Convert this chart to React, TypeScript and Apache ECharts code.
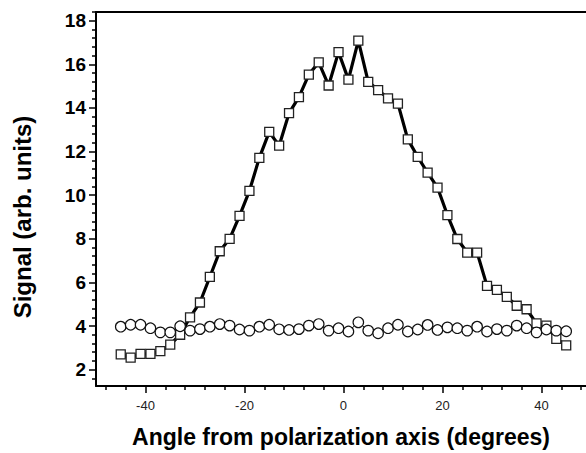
import React, { useEffect, useRef } from "react";
import * as echarts from "echarts";

const angles = [
  -45, -43, -41, -39, -37, -35, -33, -31, -29, -27, -25, -23, -21, -19, -17, -15,
  -13, -11, -9, -7, -5, -3, -1, 1, 3, 5, 7, 9, 11, 13, 15, 17, 19, 21, 23, 25, 27,
  29, 31, 33, 35, 37, 39, 41, 43, 45,
];

const squareSignal = [
  2.7, 2.55, 2.72, 2.72, 2.85, 3.15, 3.6, 4.4, 5.08, 6.25, 7.43, 8.0, 9.05, 10.2,
  11.71, 12.9, 12.27, 13.76, 14.5, 15.53, 16.09, 15.03, 16.56, 15.3, 17.09, 15.2,
  14.82, 14.44, 14.2, 12.56, 11.76, 11.03, 10.35, 9.09, 7.99, 7.37, 7.37, 5.84,
  5.66, 5.34, 4.93, 4.77, 4.12, 4.02, 3.41, 3.11,
];

const circleSignal = [
  3.97, 4.06, 4.06, 3.9, 3.71, 3.71, 3.99, 3.79, 3.86, 3.97, 4.09, 4.02, 3.84,
  3.79, 3.97, 4.06, 3.85, 3.82, 3.86, 4.02, 4.09, 3.79, 3.9, 3.75, 4.17, 3.79,
  3.67, 3.9, 4.06, 3.75, 3.84, 4.05, 3.82, 3.94, 3.9, 3.79, 3.97, 3.75, 3.86,
  3.79, 4.02, 3.9, 3.71, 3.84, 3.79, 3.76,
];

const xMajorTicks = [-40, -20, 0, 20, 40];
const xMinorTicks = [-48, -44, -36, -32, -28, -24, -16, -12, -8, -4, 4, 8, 12, 16, 24, 28, 32, 36, 44, 48];
const yMajorTicks = [2, 4, 6, 8, 10, 12, 14, 16, 18];
const yMinorTicks: number[] = [];
for (let i = 4; i <= 46; i++) {
  const v = Math.round(i * 0.4 * 10) / 10;
  if (Math.abs(v - Math.round(v)) > 1e-6 || Math.round(v) % 2 !== 0) yMinorTicks.push(v);
}

const X_MIN = -50;
const X_MAX = 49;
const Y_MIN = 1.25;
const Y_MAX = 18.4;

export default function App() {
  const ref = useRef<HTMLDivElement>(null);
  useEffect(() => {
    if (!ref.current) return;
    const chart = echarts.init(ref.current, null, { renderer: "svg" });
    const font = "'Liberation Sans', Arial, Helvetica, sans-serif";
    const sq = angles.map((a, i) => [a, squareSignal[i]]);
    const ci = angles.map((a, i) => [a, circleSignal[i]]);
    chart.setOption({
      animation: false,
      backgroundColor: "#ffffff",
      grid: { left: 96, top: 12, right: 0, bottom: 64, containLabel: false },
      xAxis: [
        {
          type: "value",
          min: X_MIN,
          max: X_MAX,
          position: "bottom",
          name: "Angle from polarization axis (degrees)",
          nameLocation: "middle",
          nameGap: 39,
          nameTextStyle: { fontFamily: font, fontWeight: "bold", fontSize: 23, color: "#000" },
          axisLine: { show: true, onZero: false, lineStyle: { color: "#000", width: 2 } },
          axisTick: { show: true, inside: false, length: 7, customValues: xMajorTicks, lineStyle: { color: "#000", width: 1.5 } },
          axisLabel: { show: true, customValues: xMajorTicks, margin: 13, fontFamily: font, fontSize: 13, color: "#222" },
          splitLine: { show: false },
        },
        {
          type: "value",
          min: X_MIN,
          max: X_MAX,
          position: "bottom",
          axisLine: { show: false, onZero: false },
          axisTick: { show: true, inside: false, length: 4, customValues: xMinorTicks, lineStyle: { color: "#000", width: 1.5 } },
          axisLabel: { show: false },
          splitLine: { show: false },
        },
        {
          type: "value",
          min: X_MIN,
          max: X_MAX,
          position: "top",
          axisLine: { show: true, onZero: false, lineStyle: { color: "#000", width: 2 } },
          axisTick: { show: false },
          axisLabel: { show: false },
          splitLine: { show: false },
        },
      ],
      yAxis: [
        {
          type: "value",
          min: Y_MIN,
          max: Y_MAX,
          position: "left",
          axisLine: { show: true, onZero: false, lineStyle: { color: "#000", width: 2 } },
          axisTick: { show: true, inside: false, length: 7, customValues: yMajorTicks, lineStyle: { color: "#000", width: 1.5 } },
          axisLabel: { show: true, customValues: yMajorTicks, margin: 10, fontFamily: font, fontWeight: "bold", fontSize: 19, color: "#000" },
          splitLine: { show: false },
        },
        {
          type: "value",
          min: Y_MIN,
          max: Y_MAX,
          position: "left",
          axisLine: { show: false, onZero: false },
          axisTick: { show: true, inside: false, length: 4, customValues: yMinorTicks, lineStyle: { color: "#000", width: 1.5 } },
          axisLabel: { show: false },
          splitLine: { show: false },
        },
      ],
      graphic: [
        {
          type: "text",
          x: 22,
          y: 217,
          rotation: Math.PI / 2,
          style: {
            text: "Signal (arb. units)",
            fontFamily: font,
            fontWeight: "bold",
            fontSize: 24,
            fill: "#000",
            align: "center",
            verticalAlign: "middle",
          },
        },
      ],
      series: [
        {
          type: "line",
          data: sq,
          xAxisIndex: 0,
          yAxisIndex: 0,
          symbol: "rect",
          symbolSize: 9,
          showAllSymbol: true,
          lineStyle: { color: "#000", width: 3.2 },
          itemStyle: { color: "#fff", borderColor: "#222", borderWidth: 1.3 },
          z: 2,
        },
        {
          type: "line",
          data: ci,
          xAxisIndex: 0,
          yAxisIndex: 0,
          symbol: "circle",
          symbolSize: 10.5,
          showAllSymbol: true,
          lineStyle: { color: "#000", width: 1 },
          itemStyle: { color: "#fff", borderColor: "#111", borderWidth: 1.2 },
          z: 3,
        },
      ],
    });
    return () => chart.dispose();
  }, []);
  return (
    <div
      ref={ref}
      style={{ position: "absolute", left: 0, top: 0, width: 586, height: 453 }}
    />
  );
}
